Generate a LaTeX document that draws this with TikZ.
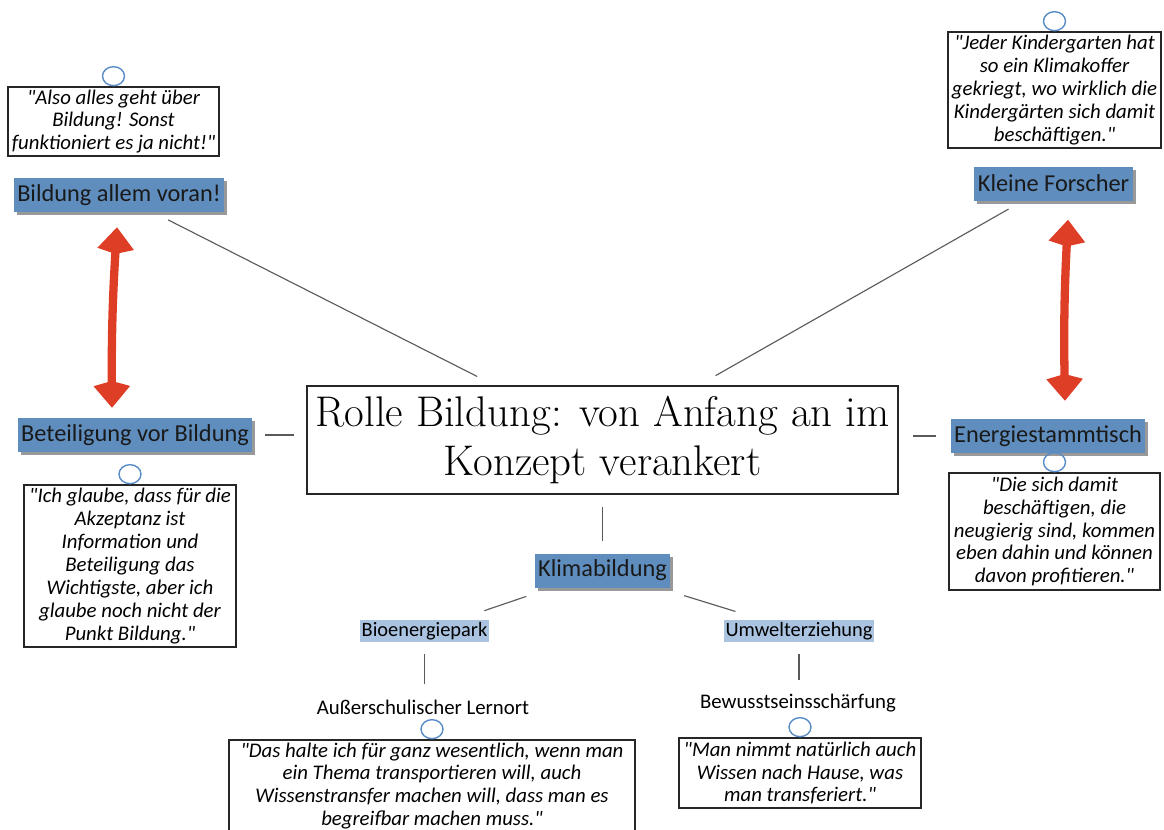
\documentclass[tikz,border=0pt]{standalone}
\usepackage{fontspec}
\newfontfamily\mapfont{Carlito}
\usepackage{tikz}
\usetikzlibrary{arrows.meta,shadows,shapes.geometric}

\definecolor{conceptblue}{RGB}{95,142,190}
\definecolor{subblue}{RGB}{170,195,224}
\definecolor{pinblue}{RGB}{88,140,200}
\definecolor{arrowred}{RGB}{222,62,38}
\definecolor{linkgray}{RGB}{90,90,90}
\newcommand\pxu{0.025cm}

\begin{document}
\begin{tikzpicture}[
  x=\pxu, y=-\pxu,
  conceptbox/.style={fill=conceptblue, text=black!90, inner xsep=2.5pt, inner ysep=0pt,
    minimum height=34*\pxu, font=\mapfont\fontsize{17.3}{20}\selectfont,
    drop shadow={shadow xshift=2.2pt, shadow yshift=-2.2pt, fill=black!40, opacity=1}},
  subconcept/.style={fill=subblue, inner xsep=1pt, inner ysep=0pt, minimum height=22*\pxu,
    font=\mapfont\fontsize{14.5}{16}\selectfont},
  plainlabel/.style={inner sep=1pt, font=\mapfont\fontsize{14.8}{16}\selectfont},
  corebox/.style={draw=black!85, line width=0.9pt, align=center, inner sep=0pt,
    minimum width=591*\pxu, minimum height=108*\pxu, font=\fontsize{30.5}{35.5}\selectfont},
  quotebox/.style={draw=black!85, line width=0.9pt, fill=white, align=center, inner sep=0pt,
    font=\mapfont\itshape\fontsize{14.8}{16.3}\selectfont},
  commentmark/.style={draw=pinblue, line width=1pt, ellipse, anchor=south, inner sep=0pt,
    minimum width=22*\pxu, minimum height=19*\pxu},
  link/.style={draw=linkgray, line width=0.8pt},
  twoway/.style={draw=arrowred, line width=5.9pt,
    {Kite[length=19pt,width=26pt,inset=3.6pt]}-{Kite[length=19pt,width=26pt,inset=3.6pt]}}
]
\useasboundingbox (0,0) rectangle (1164,829);
\clip (0,0) rectangle (1164,829);

\node[corebox] (core) at (602.5,440) {Rolle Bildung: von Anfang an im\\Konzept verankert};

% left side
\node[conceptbox] (bildung) at (119,195) {Bildung allem voran!};
\node[quotebox, minimum width=211*\pxu, minimum height=69*\pxu] (q-bildung) at (113.5,121.5)
  {"Also alles geht über\\Bildung! Sonst\\funktioniert es ja nicht!"};
\node[commentmark] (c-bildung) at (q-bildung.north) {};

\node[conceptbox] (beteiligung) at (135,435) {Beteiligung vor Bildung};
\node[quotebox, minimum width=212*\pxu, minimum height=162*\pxu] (q-beteiligung) at (130,566)
  {"Ich glaube, dass für die\\Akzeptanz ist\\Information und\\Beteiligung das\\Wichtigste, aber ich\\glaube noch nicht der\\Punkt Bildung."};
\node[commentmark] (c-beteiligung) at (q-beteiligung.north) {};

% right side
\node[conceptbox] (forscher) at (1053.5,183.5) {Kleine Forscher};
\node[quotebox, minimum width=213*\pxu, minimum height=116*\pxu] (q-forscher) at (1054.5,90)
  {"Jeder Kindergarten hat\\so ein Klimakoffer\\gekriegt, wo wirklich die\\Kindergärten sich damit\\beschäftigen."};
\node[commentmark] (c-forscher) at (q-forscher.north) {};

\node[conceptbox] (stammtisch) at (1048,436) {Energiestammtisch};
\node[quotebox, minimum width=211*\pxu, minimum height=117*\pxu] (q-stammtisch) at (1054.5,531.5)
  {"Die sich damit\\beschäftigen, die\\neugierig sind, kommen\\eben dahin und können\\davon profitieren."};
\node[commentmark] (c-stammtisch) at (q-stammtisch.north) {};

% bottom
\node[conceptbox] (klima) at (602.5,570.5) {Klimabildung};
\node[subconcept] (bio) at (424.5,631) {Bioenergiepark};
\node[subconcept] (umwelt) at (799,631) {Umwelterziehung};
\node[plainlabel] (lernort) at (423,707) {Außerschulischer Lernort};
\node[plainlabel] (bewusst) at (798,703) {Bewusstseinsschärfung};
\node[quotebox, minimum width=406*\pxu, minimum height=92*\pxu] (q-lernort) at (432,786)
  {"Das halte ich für ganz wesentlich, wenn man\\ein Thema transportieren will, auch\\Wissenstransfer machen will, dass man es\\begreifbar machen muss."};
\node[commentmark] (c-lernort) at (q-lernort.north) {};
\node[quotebox, minimum width=242*\pxu, minimum height=70*\pxu] (q-bewusst) at (800,773)
  {"Man nimmt natürlich auch\\Wissen nach Hause, was\\man transferiert."};
\node[commentmark] (c-bewusst) at (q-bewusst.north) {};

% connectors
\draw[link, shorten <=12pt, shorten >=14pt] (bildung) -- (core);
\draw[link, shorten <=12pt, shorten >=14pt] (forscher) -- (core);
\draw[link, shorten <=9pt, shorten >=8.5pt] (beteiligung.east) -- (beteiligung.east -| core.west);
\draw[link, shorten <=10pt, shorten >=10pt] (core.east |- stammtisch.west) -- (stammtisch.west);
\draw[link, shorten <=9pt, shorten >=9pt] (core) -- (klima);
\draw[link, shorten <=19pt, shorten >=20pt] (klima) -- (bio);
\draw[link, shorten <=19pt, shorten >=20pt] (klima) -- (umwelt);
\draw[link, shorten <=8.5pt, shorten >=10pt] (bio) -- (bio |- lernort.north);
\draw[link, shorten <=8.5pt, shorten >=9pt] (umwelt) -- (umwelt |- bewusst.north);

\draw[twoway] ([shift={(-2,15)}]bildung.south) to[bend right=2] ([shift={(-23,-10)}]beteiligung.north);
\draw[twoway] ([shift={(14.5,19)}]forscher.south) to[bend right=2] ([shift={(17,-18)}]stammtisch.north);
\end{tikzpicture}
\end{document}
